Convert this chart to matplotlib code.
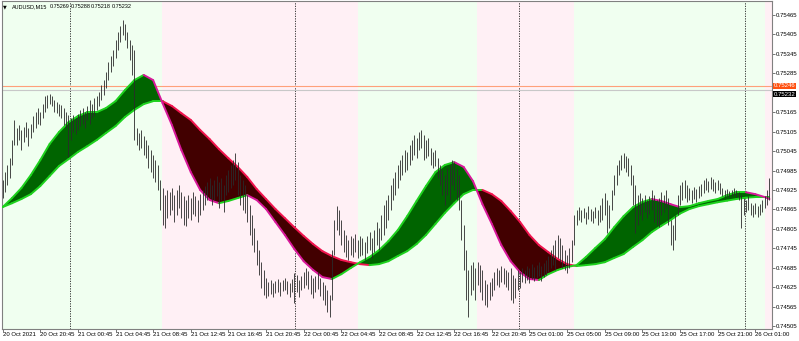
import numpy as np
import matplotlib.pyplot as plt
from matplotlib.collections import LineCollection

plt.rcParams['font.family'] = ['Liberation Sans', 'DejaVu Sans']

# bar highs / lows in points (1e-5), one per M15 bar
highs = [74955, 74980, 75002, 75024, 75079, 75141, 75116, 75125, 75110, 75119,
         75135, 75116, 75128, 75153, 75165, 75178, 75165, 75190, 75215, 75218,
         75221, 75215, 75202, 75196, 75190, 75187, 75178, 75165, 75156, 75147,
         75156, 75147, 75159, 75172, 75178, 75165, 75184, 75202, 75190, 75209,
         75215, 75227, 75249, 75264, 75289, 75320, 75338, 75357, 75388, 75412,
         75431, 75449, 75437, 75412, 75388, 75372, 75357, 75116, 75101, 75110,
         75091, 75079, 75064, 75048, 75033, 75017, 75002, 74955, 74931, 74909,
         74925, 74918, 74931, 74909, 74925, 74940, 74918, 74906, 74894, 74909,
         74900, 74918, 74906, 74894, 74912, 74925, 74937, 74949, 74962, 74940,
         74955, 74968, 74949, 74962, 74940, 74971, 74987, 75002, 75017, 75039,
         75011, 74971, 74955, 74940, 74909, 74878, 74847, 74807, 74770, 74739,
         74702, 74678, 74653, 74641, 74647, 74638, 74644, 74650, 74641, 74647,
         74653, 74644, 74638, 74650, 74668, 74662, 74647, 74659, 74671, 74684,
         74675, 74662, 74653, 74659, 74671, 74653, 74641, 74631, 74616, 74601,
         74739, 74832, 74875, 74863, 74832, 74801, 74786, 74770, 74783, 74776,
         74789, 74770, 74783, 74776, 74764, 74783, 74795, 74776, 74801, 74826,
         74807, 74847, 74878, 74894, 74909, 74940, 74962, 74980, 75002, 75017,
         75033, 75048, 75042, 75064, 75079, 75095, 75085, 75104, 75110, 75095,
         75079, 75085, 75054, 75042, 75048, 75024, 75002, 74987, 74971, 74993,
         75002, 75017, 75011, 74993, 74971, 74894, 74817, 74739, 74678, 74693,
         74702, 74684, 74702, 74693, 74678, 74647, 74634, 74641, 74653, 74671,
         74684, 74678, 74690, 74684, 74678, 74671, 74684, 74662, 74653, 74678,
         74671, 74684, 74678, 74690, 74684, 74696, 74687, 74693, 74702, 74690,
         74699, 74709, 74721, 74739, 74755, 74770, 74786, 74776, 74755, 74739,
         74724, 74746, 74770, 74847, 74863, 74872, 74863, 74869, 74857, 74875,
         74866, 74860, 74872, 74863, 74878, 74900, 74915, 74894, 74878, 74925,
         74971, 75002, 75017, 75033, 75039, 75030, 75024, 75002, 74971, 74940,
         74909, 74915, 74900, 74909, 74894, 74906, 74925, 74909, 74894, 74900,
         74918, 74909, 74925, 74900, 74832, 74817, 74847, 74909, 74940, 74949,
         74955, 74940, 74931, 74925, 74934, 74928, 74937, 74943, 74955, 74962,
         74952, 74965, 74959, 74949, 74955, 74946, 74931, 74925, 74928, 74921,
         74925, 74931, 74925, 74918, 74909, 74900, 74894, 74906, 74884, 74878,
         74884, 74875, 74881, 74894, 74906, 74925, 74962]
lows = [74900, 74918, 74940, 74962, 75002, 75064, 75064, 75079, 75048, 75073,
        75088, 75061, 75085, 75104, 75116, 75128, 75125, 75147, 75165, 75178,
        75190, 75184, 75165, 75162, 75153, 75147, 75125, 75116, 75027, 75079,
        75104, 75098, 75110, 75122, 75128, 75116, 75141, 75128, 75147, 75153,
        75172, 75184, 75202, 75218, 75239, 75264, 75289, 75307, 75332, 75357,
        75381, 75403, 75388, 75363, 75326, 75280, 75079, 75064, 75048, 75054,
        75033, 75024, 74993, 74980, 74962, 74949, 74925, 74863, 74817, 74807,
        74838, 74847, 74863, 74826, 74847, 74869, 74838, 74817, 74813, 74838,
        74832, 74851, 74844, 74826, 74847, 74863, 74878, 74894, 74900, 74878,
        74894, 74906, 74869, 74894, 74857, 74909, 74918, 74931, 74940, 74955,
        74909, 74878, 74863, 74854, 74826, 74786, 74755, 74733, 74693, 74662,
        74622, 74601, 74591, 74597, 74604, 74594, 74607, 74610, 74597, 74613,
        74616, 74604, 74594, 74610, 74576, 74610, 74594, 74616, 74622, 74631,
        74619, 74604, 74591, 74610, 74619, 74597, 74585, 74570, 74548, 74533,
        74585, 74724, 74801, 74786, 74755, 74733, 74718, 74709, 74724, 74718,
        74733, 74715, 74721, 74724, 74709, 74730, 74739, 74715, 74733, 74755,
        74739, 74770, 74786, 74807, 74832, 74863, 74894, 74909, 74931, 74955,
        74971, 74980, 74987, 75002, 75017, 75033, 75024, 75048, 75054, 75017,
        75024, 75030, 75002, 74993, 74999, 74962, 74940, 74909, 74878, 74909,
        74894, 74940, 74925, 74894, 74863, 74770, 74678, 74585, 74533, 74601,
        74616, 74585, 74631, 74610, 74585, 74570, 74563, 74585, 74597, 74616,
        74631, 74625, 74641, 74634, 74625, 74616, 74585, 74576, 74591, 74616,
        74622, 74641, 74638, 74647, 74638, 74650, 74644, 74653, 74659, 74644,
        74656, 74662, 74671, 74684, 74693, 74678, 74715, 74702, 74684, 74678,
        74668, 74684, 74702, 74755, 74817, 74832, 74826, 74838, 74820, 74835,
        74829, 74823, 74838, 74817, 74826, 74832, 74847, 74792, 74807, 74863,
        74909, 74940, 74971, 74987, 74993, 74980, 74968, 74940, 74878, 74792,
        74817, 74847, 74832, 74857, 74838, 74851, 74863, 74826, 74817, 74810,
        74847, 74857, 74869, 74817, 74755, 74739, 74770, 74847, 74878, 74894,
        74900, 74888, 74894, 74884, 74897, 74888, 74900, 74906, 74915, 74925,
        74918, 74928, 74921, 74915, 74925, 74912, 74906, 74903, 74906, 74903,
        74906, 74909, 74903, 74894, 74807, 74847, 74857, 74863, 74847, 74841,
        74851, 74841, 74847, 74857, 74869, 74878, 74894]

# two moving averages, read every 4 bars (points)
ma_idx = list(range(0, 325, 4)) + [326]
ma_fast = [74872, 74900, 74931, 74971, 75017, 75067, 75104, 75134, 75153, 75165,
           75165, 75178, 75199, 75233, 75264, 75280, 75264, 75193, 75125, 75048,
           74980, 74925, 74894, 74884, 74891, 74900, 74909, 74894, 74866, 74826,
           74786, 74743, 74705, 74678, 74656, 74650, 74665, 74684, 74702, 74718,
           74739, 74767, 74801, 74844, 74891, 74937, 74980, 75002, 75011, 74996,
           74952, 74881, 74820, 74755, 74705, 74671, 74650, 74647, 74665, 74678,
           74687, 74693, 74718, 74746, 74773, 74810, 74844, 74872, 74888, 74897,
           74891, 74881, 74872, 74875, 74884, 74891, 74897, 74909, 74918, 74918,
           74912, 74903, 74897]
ma_slow = [74872, 74884, 74897, 74912, 74937, 74968, 74999, 75020, 75042, 75060,
           75079, 75101, 75122, 75150, 75172, 75190, 75199, 75199, 75184, 75162,
           75141, 75110, 75082, 75051, 75023, 74996, 74965, 74928, 74897, 74866,
           74838, 74810, 74783, 74758, 74736, 74721, 74709, 74702, 74696, 74693,
           74696, 74705, 74721, 74736, 74758, 74786, 74820, 74854, 74884, 74912,
           74925, 74925, 74912, 74891, 74860, 74826, 74786, 74755, 74733, 74712,
           74696, 74690, 74693, 74696, 74702, 74715, 74727, 74749, 74770, 74795,
           74814, 74832, 74852, 74866, 74875, 74881, 74887, 74892, 74897, 74901,
           74903, 74903, 74903]

time_idx = list(range(0, 321, 16))
time_labels = ['20 Oct 2021', '20 Oct 20:45', '21 Oct 00:45', '21 Oct 04:45',
               '21 Oct 08:45', '21 Oct 12:45', '21 Oct 16:45', '21 Oct 20:45',
               '22 Oct 00:45', '22 Oct 04:45', '22 Oct 08:45', '22 Oct 12:45',
               '22 Oct 16:45', '22 Oct 20:45', '25 Oct 01:00', '25 Oct 05:00',
               '25 Oct 09:00', '25 Oct 13:00', '25 Oct 17:00', '25 Oct 21:00',
               '26 Oct 01:00']
price_ticks = [0.74505, 0.74565, 0.74625, 0.74685, 0.74745, 0.74805, 0.74865,
               0.74925, 0.74985, 0.75045, 0.75105, 0.75165, 0.75285, 0.75345,
               0.75405, 0.75465]
day_breaks = [28.5, 124.5, 219.5, 315.5]
header = ['AUDUSD,M15', '0.75269', '0.75288', '0.75218', '0.75232']
ask_price = 0.75246
bid_price = 0.75232

hi = np.array(highs) * 1e-5
lo = np.array(lows) * 1e-5
mx = np.array(ma_idx, dtype=float)
fast = np.array(ma_fast) * 1e-5
slow = np.array(ma_slow) * 1e-5
bars = np.arange(len(highs))

FS = 4.3
W, H = 799, 341
fig = plt.figure(figsize=(W / 100, H / 100), dpi=100)
ax = fig.add_axes([1.5 / W, 12 / H, 770.5 / W, 328 / H])
xmin, xmax = -0.47, 327.1
ax.set_xlim(xmin, xmax)
ax.set_ylim(0.744958, 0.755082)

# background by which average is on top
green_bg, pink_bg = '#F0FFF0', '#FFF0F5'
d = fast - slow
edges = [xmin]
for k in range(len(d) - 1):
    if (d[k] >= 0) != (d[k + 1] >= 0):
        t = d[k] / (d[k] - d[k + 1])
        edges.append(mx[k] + t * (mx[k + 1] - mx[k]))
edges.append(xmax)
up = d[0] >= 0
for a, b in zip(edges[:-1], edges[1:]):
    ax.axvspan(a, b, color=green_bg if up else pink_bg, lw=0, zorder=0)
    up = not up

# filled band between averages
ax.fill_between(mx, fast, slow, where=fast >= slow, interpolate=True,
                color='#006400', lw=0, zorder=2)
ax.fill_between(mx, fast, slow, where=fast < slow, interpolate=True,
                color='#420000', lw=0, zorder=2)

def slope_line(y, c_up, c_dn):
    pts = np.column_stack([mx, y])
    segs = np.stack([pts[:-1], pts[1:]], axis=1)
    cols = [c_up if y[k + 1] >= y[k] else c_dn for k in range(len(y) - 1)]
    ax.add_collection(LineCollection(segs, colors=cols, linewidths=1.4,
                                     capstyle='round', zorder=3))

slope_line(slow, '#1ED21E', '#F0144E')
slope_line(fast, '#1ED21E', '#D8189A')

# price bars
ax.vlines(bars, lo, hi, color='#2a2a2a', linewidth=0.6, zorder=4)

for xb in day_breaks:
    ax.axvline(xb, color='#202020', lw=0.6, ls=(0, (1.5, 1.5)), zorder=1)

ax.axhline(ask_price, color='#FFA07A', lw=0.8, zorder=1)
ax.axhline(bid_price, color='#C8C8C8', lw=0.8, zorder=1)

for s in ax.spines.values():
    s.set_color('#808080')
    s.set_linewidth(0.8)

ax.set_xticks(time_idx)
ax.set_xticklabels(time_labels, ha='left')
ax.yaxis.tick_right()
ax.set_yticks(price_ticks)
ax.set_yticklabels(['%.5f' % p for p in price_ticks])
ax.tick_params(axis='both', length=2, width=0.6, color='#606060',
               labelsize=FS, pad=1)
ax.tick_params(axis='x', pad=0.5)

tr = ax.get_yaxis_transform()
ax.text(1.002, ask_price, '%.5f' % ask_price, transform=tr, fontsize=FS,
        color='white', va='center', ha='left',
        bbox=dict(boxstyle='square,pad=0.1', fc='#FF5010', ec='none'))
ax.text(1.002, bid_price - 0.00011, '%.5f' % bid_price, transform=tr,
        fontsize=FS, color='white', va='center', ha='left',
        bbox=dict(boxstyle='square,pad=0.1', fc='black', ec='none'))

fig.text(3 / W, 1 - 6.5 / H, '\u25BC', fontsize=3.5, va='center',
         family='DejaVu Sans')
hx = [12, 50, 70.5, 91, 111.5]
for x, s in zip(hx, header):
    fig.text(x / W, 1 - 6.5 / H, s, fontsize=4.0, va='center')

fig.savefig('out.png', dpi=100)
